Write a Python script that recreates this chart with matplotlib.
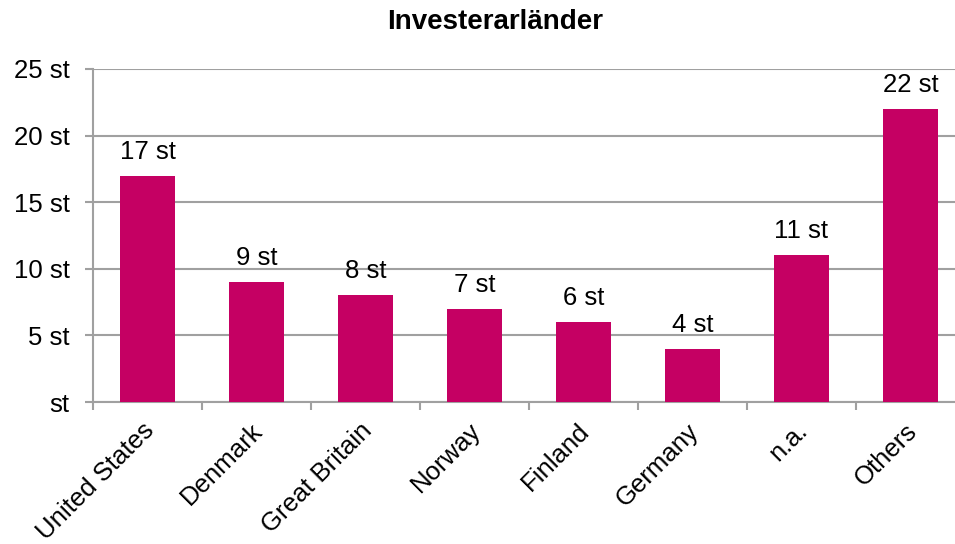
import matplotlib.pyplot as plt
import matplotlib.transforms as mtransforms
import numpy as np

plt.rcParams['font.family'] = ['Liberation Sans', 'DejaVu Sans']

countries = ["United States", "Denmark", "Great Britain", "Norway",
             "Finland", "Germany", "n.a.", "Others"]
counts = [17, 9, 8, 7, 6, 4, 11, 22]
y_ticks = [0, 5, 10, 15, 20, 25]
y_labels = ["st", "5 st", "10 st", "15 st", "20 st", "25 st"]

bar_color = "#C50063"
grid_color = "#A0A0A0"
fs = 18.5

fig = plt.figure(figsize=(9.55, 5.44), dpi=100)
ax = fig.add_axes([93 / 955, 1 - 402 / 544, 872 / 955, 333 / 544])

x = np.arange(len(countries))
bars = ax.bar(x, counts, width=0.5, color=bar_color, zorder=3)
for xi, v in zip(x, counts):
    ax.text(xi, v + 0.9, f"{v} st", ha="center", va="bottom", fontsize=fs)

ax.set_xlim(-0.5, len(countries) - 0.5)
ax.set_ylim(0, 25)
ax.set_yticks(y_ticks)
ax.set_yticklabels(y_labels, fontsize=fs)
ax.yaxis.grid(True, color=grid_color, linewidth=1.5, zorder=0)

# category labels between tick marks
ax.set_xticks(np.arange(len(countries) + 1) - 0.5)
ax.set_xticklabels([])
ax.set_xticks(x, minor=True)
ax.set_xticklabels(countries, minor=True, rotation=45, ha="right",
                   rotation_mode="anchor", fontsize=fs)
ax.tick_params(axis="x", which="minor", length=0, pad=12)
ax.tick_params(axis="x", which="major", length=6, width=1.5, color=grid_color)
ax.tick_params(axis="y", length=6, width=1.5, color=grid_color, pad=11)

shift = mtransforms.ScaledTranslation(-6 / 100, 0, fig.dpi_scale_trans)
for lbl in ax.get_xticklabels(minor=True):
    lbl.set_transform(lbl.get_transform() + shift)

for side in ["top", "right"]:
    ax.spines[side].set_visible(False)
for side in ["left", "bottom"]:
    ax.spines[side].set_color(grid_color)
    ax.spines[side].set_linewidth(1.5)

fig.text(495 / 955, 1 - 22 / 544, "Investerarländer", ha="center", va="center",
         fontsize=20, fontweight="bold")

fig.savefig("out.png", dpi=100)
